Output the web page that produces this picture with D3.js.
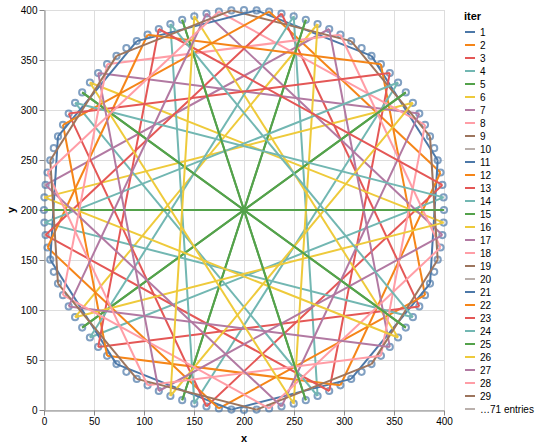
<!DOCTYPE html>
<head>
<style type="text/css">
	body { margin: 0; background: #fff; }
	text { font-family: "Liberation Sans", Arial, sans-serif; }
</style>
</head>
<script src="https://d3js.org/d3.v7.min.js"></script>
<body>
	<svg width="539" height="447"></svg>
	<script>
	// 100 points round the circle
	var pointX = [200, 212.6, 225.1, 237.5, 249.7, 261.8, 273.6, 285.2, 296.4, 307.2, 317.6, 327.5, 336.9, 345.8, 354.1, 361.8, 368.9, 375.3, 381.0, 386.0, 390.2, 393.7, 396.5, 398.4, 399.6, 400,
		399.6, 398.4, 396.5, 393.7, 390.2, 386.0, 381.0, 375.3, 368.9, 361.8, 354.1, 345.8, 336.9, 327.5, 317.6, 307.2, 296.4, 285.2, 273.6, 261.8, 249.7, 237.5, 225.1, 212.6,
		200, 187.4, 174.9, 162.5, 150.3, 138.2, 126.4, 114.8, 103.6, 92.8, 82.4, 72.5, 63.1, 54.2, 45.9, 38.2, 31.1, 24.7, 19.0, 14.0, 9.8, 6.3, 3.5, 1.6, 0.4, 0,
		0.4, 1.6, 3.5, 6.3, 9.8, 14.0, 19.0, 24.7, 31.1, 38.2, 45.9, 54.2, 63.1, 72.5, 82.4, 92.8, 103.6, 114.8, 126.4, 138.2, 150.3, 162.5, 174.9, 187.4];
	var pointY = [400, 399.6, 398.4, 396.5, 393.7, 390.2, 386.0, 381.0, 375.3, 368.9, 361.8, 354.1, 345.8, 336.9, 327.5, 317.6, 307.2, 296.4, 285.2, 273.6, 261.8, 249.7, 237.5, 225.1, 212.6, 200,
		187.4, 174.9, 162.5, 150.3, 138.2, 126.4, 114.8, 103.6, 92.8, 82.4, 72.5, 63.1, 54.2, 45.9, 38.2, 31.1, 24.7, 19.0, 14.0, 9.8, 6.3, 3.5, 1.6, 0.4, 0,
		0.4, 1.6, 3.5, 6.3, 9.8, 14.0, 19.0, 24.7, 31.1, 38.2, 45.9, 54.2, 63.1, 72.5, 82.4, 92.8, 103.6, 114.8, 126.4, 138.2, 150.3, 162.5, 174.9, 187.4, 200,
		212.6, 225.1, 237.5, 249.7, 261.8, 273.6, 285.2, 296.4, 307.2, 317.6, 327.5, 336.9, 345.8, 354.1, 361.8, 368.9, 375.3, 381.0, 386.0, 390.2, 393.7, 396.5, 398.4, 399.6];

	// one segment per iter: from point lineFrom[k] to point lineTo[k]
	var iters = [1, 2, 3, 4, 5, 6, 7, 8, 9, 10, 11, 12, 13, 14, 15, 16, 17, 18, 19, 20,
		21, 22, 23, 24, 25, 26, 27, 28, 29, 30, 31, 32, 33, 34, 35, 36, 37, 38, 39, 40,
		41, 42, 43, 44, 45, 46, 47, 48, 49, 50, 51, 52, 53, 54, 55, 56, 57, 58, 59, 60,
		61, 62, 63, 64, 65, 66, 67, 68, 69, 70, 71, 72, 73, 74, 75, 76, 77, 78, 79, 80,
		81, 82, 83, 84, 85, 86, 87, 88, 89, 90, 91, 92, 93, 94, 95, 96, 97, 98, 99, 100];
	var lineFrom = [1, 2, 3, 4, 5, 6, 7, 8, 9, 10, 11, 12, 13, 14, 15, 16, 17, 18, 19, 20,
		21, 22, 23, 24, 25, 26, 27, 28, 29, 30, 31, 32, 33, 34, 35, 36, 37, 38, 39, 40,
		41, 42, 43, 44, 45, 46, 47, 48, 49, 50, 51, 52, 53, 54, 55, 56, 57, 58, 59, 60,
		61, 62, 63, 64, 65, 66, 67, 68, 69, 70, 71, 72, 73, 74, 75, 76, 77, 78, 79, 80,
		81, 82, 83, 84, 85, 86, 87, 88, 89, 90, 91, 92, 93, 94, 95, 96, 97, 98, 99, 0];
	var lineTo = [11, 22, 33, 44, 55, 66, 77, 88, 99, 10, 21, 32, 43, 54, 65, 76, 87, 98, 9, 20,
		31, 42, 53, 64, 75, 86, 97, 8, 19, 30, 41, 52, 63, 74, 85, 96, 7, 18, 29, 40,
		51, 62, 73, 84, 95, 6, 17, 28, 39, 50, 61, 72, 83, 94, 5, 16, 27, 38, 49, 60,
		71, 82, 93, 4, 15, 26, 37, 48, 59, 70, 81, 92, 3, 14, 25, 36, 47, 58, 69, 80,
		91, 2, 13, 24, 35, 46, 57, 68, 79, 90, 1, 12, 23, 34, 45, 56, 67, 78, 89, 0];

	var axisTicks = [0, 50, 100, 150, 200, 250, 300, 350, 400];
	var legendShown = 29;

	var svg = d3.select("svg");
	var margin = {left: 44, top: 10}, w = 400, h = 400;

	var x = d3.scaleLinear().domain([0, 400]).range([0, w]);
	var y = d3.scaleLinear().domain([0, 400]).range([h, 0]);
	var color = d3.scaleOrdinal()
		.domain(iters)
		.range(["#4c78a8", "#f58518", "#e45756", "#72b7b2", "#54a24b", "#eeca3b", "#b279a2", "#ff9da6", "#9d755d", "#bab0ac"]);

	var g = svg.append("g").attr("transform", "translate(" + margin.left + "," + margin.top + ")");

	// grid
	g.append("g").selectAll("line").data(axisTicks).enter().append("line")
		.attr("x1", function(d) { return x(d) + 0.5; }).attr("x2", function(d) { return x(d) + 0.5; })
		.attr("y1", 0).attr("y2", h)
		.attr("stroke", "#ddd");
	g.append("g").selectAll("line").data(axisTicks).enter().append("line")
		.attr("y1", function(d) { return y(d) + 0.5; }).attr("y2", function(d) { return y(d) + 0.5; })
		.attr("x1", 0).attr("x2", w)
		.attr("stroke", "#ddd");

	// axes
	var xAxis = g.append("g").attr("transform", "translate(0," + (h + 0.5) + ")")
		.call(d3.axisBottom(x).tickValues(axisTicks).tickSize(5).tickPadding(2).tickSizeOuter(0));
	var yAxis = g.append("g").attr("transform", "translate(0.5,0)")
		.call(d3.axisLeft(y).tickValues(axisTicks).tickSize(5).tickPadding(2).tickSizeOuter(0));
	[xAxis, yAxis].forEach(function(a) {
		a.select(".domain").attr("stroke", "#888");
		a.selectAll(".tick line").attr("stroke", "#888");
		a.selectAll(".tick text").attr("fill", "#000").attr("font-size", 10)
			.attr("font-family", "Liberation Sans, Arial, sans-serif");
	});

	g.append("text").attr("x", w / 2).attr("y", h + 32)
		.attr("text-anchor", "middle").attr("font-size", 11).attr("font-weight", "bold").text("x");
	g.append("text").attr("transform", "translate(-29," + (h / 2) + ") rotate(-90)")
		.attr("text-anchor", "middle").attr("font-size", 11).attr("font-weight", "bold").text("y");

	// points
	g.append("g").selectAll("circle").data(pointX).enter().append("circle")
		.attr("cx", function(d) { return x(d); })
		.attr("cy", function(d, i) { return y(pointY[i]); })
		.attr("r", 3.1)
		.attr("fill", "none")
		.attr("stroke", "#4c78a8")
		.attr("stroke-width", 2)
		.attr("opacity", 0.7);

	// lines, one per iter
	var segs = iters.map(function(it, k) {
		return {iter: it, pts: [[pointX[lineFrom[k]], pointY[lineFrom[k]]], [pointX[lineTo[k]], pointY[lineTo[k]]]]};
	});
	var line = d3.line().x(function(d) { return x(d[0]); }).y(function(d) { return y(d[1]); });
	g.append("g").selectAll("path").data(segs).enter().append("path")
		.attr("d", function(d) { return line(d.pts); })
		.attr("fill", "none")
		.attr("stroke", function(d) { return color(d.iter); })
		.attr("stroke-width", 2);

	// legend
	var leg = svg.append("g").attr("transform", "translate(464,0)");
	leg.append("text").attr("x", 0).attr("y", 20)
		.attr("font-size", 11).attr("font-weight", "bold").text("iter");
	var items = iters.slice(0, legendShown).map(function(d) { return {label: String(d), c: color(d)}; });
	items.push({label: "\u2026" + (iters.length - legendShown) + " entries", c: "#bab0ac"});
	var li = leg.selectAll(".item").data(items).enter().append("g")
		.attr("transform", function(d, i) { return "translate(0," + (32 + i * 13) + ")"; });
	li.append("line").attr("x1", 1).attr("x2", 11).attr("y1", 0).attr("y2", 0)
		.attr("stroke", function(d) { return d.c; }).attr("stroke-width", 2);
	li.append("text").attr("x", 16).attr("y", 0).attr("dy", "0.35em")
		.attr("font-size", 10).text(function(d) { return d.label; });
	</script>
</body>
